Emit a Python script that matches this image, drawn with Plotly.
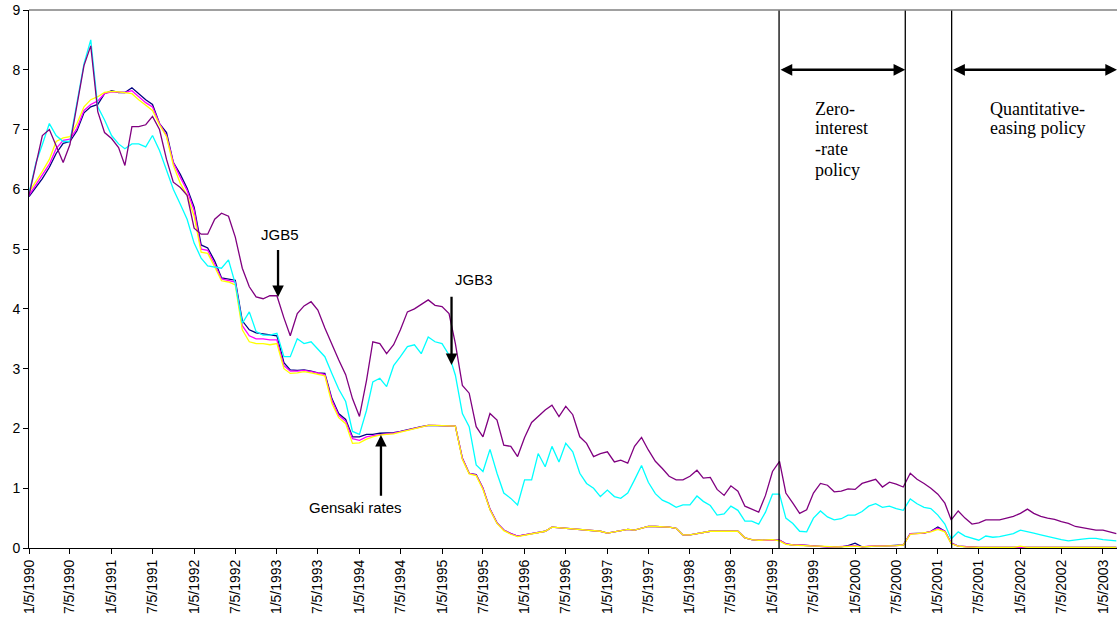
import plotly.graph_objects as go

# ---------------- data (monthly readings, 5th of each month, Jan 1990 - Mar 2003) ----------------
dates = [f"{1990 + i // 12}-{i % 12 + 1:02d}-05" for i in range(159)]

gensaki_1 = [
    5.88, 6.04, 6.18, 6.37, 6.60, 6.77, 6.80, 6.98, 7.28, 7.38, 7.42, 7.60,
    7.65, 7.62, 7.62, 7.70, 7.60, 7.50, 7.42, 7.10, 6.95, 6.45, 6.25, 6.02,
    5.70, 5.07, 5.02, 4.80, 4.52, 4.50, 4.48, 3.80, 3.65, 3.60, 3.58, 3.56,
    3.55, 3.10, 2.98, 2.97, 2.98, 2.96, 2.93, 2.92, 2.50, 2.25, 2.15, 1.86,
    1.86, 1.90, 1.90, 1.92, 1.92, 1.93, 1.95, 1.98, 2.00, 2.03, 2.05, 2.05,
    2.05, 2.05, 2.04, 1.50, 1.25, 1.23, 1.00, 0.65, 0.42, 0.30, 0.24, 0.20,
    0.22, 0.24, 0.26, 0.28, 0.35, 0.34, 0.33, 0.32, 0.32, 0.31, 0.30, 0.28,
    0.25, 0.27, 0.28, 0.31, 0.30, 0.33, 0.36, 0.36, 0.36, 0.35, 0.33, 0.22,
    0.22, 0.24, 0.27, 0.28, 0.28, 0.28, 0.28, 0.28, 0.17, 0.14, 0.13, 0.13,
    0.14, 0.13, 0.07, 0.05, 0.05, 0.04, 0.03, 0.03, 0.02, 0.02, 0.02, 0.04,
    0.08, 0.02, 0.03, 0.03, 0.03, 0.04, 0.04, 0.05, 0.24, 0.24, 0.25, 0.28,
    0.35, 0.28, 0.08, 0.03, 0.02, 0.01, 0.01, 0.01, 0.01, 0.01, 0.01, 0.01,
    0.01, 0.01, 0.01, 0.01, 0.01, 0.01, 0.01, 0.01, 0.01, 0.01, 0.01, 0.01,
    0.01, 0.01, 0.01,
]

gensaki_2 = [
    5.90, 6.08, 6.24, 6.42, 6.68, 6.82, 6.84, 7.02, 7.32, 7.42, 7.48, 7.60,
    7.63, 7.62, 7.62, 7.65, 7.55, 7.45, 7.38, 7.10, 6.90, 6.45, 6.20, 5.98,
    5.65, 5.00, 4.98, 4.75, 4.50, 4.48, 4.45, 3.72, 3.55, 3.50, 3.50, 3.48,
    3.48, 3.05, 2.96, 2.96, 2.97, 2.95, 2.92, 2.90, 2.47, 2.22, 2.12, 1.83,
    1.80, 1.86, 1.88, 1.90, 1.91, 1.92, 1.94, 1.97, 2.00, 2.03, 2.05, 2.05,
    2.05, 2.05, 2.04, 1.50, 1.25, 1.22, 1.00, 0.65, 0.42, 0.30, 0.24, 0.20,
    0.22, 0.24, 0.26, 0.28, 0.35, 0.34, 0.33, 0.32, 0.32, 0.31, 0.30, 0.28,
    0.25, 0.27, 0.28, 0.31, 0.30, 0.33, 0.36, 0.36, 0.36, 0.35, 0.33, 0.22,
    0.22, 0.24, 0.27, 0.28, 0.28, 0.28, 0.28, 0.28, 0.17, 0.14, 0.13, 0.13,
    0.14, 0.13, 0.07, 0.05, 0.05, 0.04, 0.03, 0.03, 0.02, 0.02, 0.02, 0.03,
    0.04, 0.02, 0.03, 0.03, 0.03, 0.04, 0.04, 0.05, 0.24, 0.24, 0.25, 0.28,
    0.33, 0.28, 0.08, 0.03, 0.02, 0.01, 0.01, 0.01, 0.01, 0.01, 0.01, 0.01,
    0.01, 0.01, 0.01, 0.01, 0.01, 0.01, 0.01, 0.01, 0.01, 0.01, 0.01, 0.01,
    0.01, 0.01, 0.01,
]

gensaki_3 = [
    5.95, 6.13, 6.30, 6.50, 6.80, 6.86, 6.88, 7.10, 7.38, 7.50, 7.55, 7.62,
    7.64, 7.63, 7.62, 7.60, 7.50, 7.40, 7.32, 7.08, 6.88, 6.40, 6.10, 5.90,
    5.55, 4.95, 4.93, 4.70, 4.47, 4.45, 4.40, 3.65, 3.45, 3.42, 3.42, 3.40,
    3.42, 3.00, 2.92, 2.93, 2.95, 2.93, 2.90, 2.88, 2.42, 2.18, 2.08, 1.75,
    1.76, 1.82, 1.86, 1.89, 1.90, 1.91, 1.94, 1.97, 2.00, 2.03, 2.05, 2.05,
    2.05, 2.05, 2.04, 1.48, 1.24, 1.21, 0.98, 0.64, 0.41, 0.29, 0.23, 0.19,
    0.21, 0.23, 0.26, 0.28, 0.35, 0.34, 0.33, 0.32, 0.32, 0.31, 0.30, 0.28,
    0.25, 0.27, 0.28, 0.31, 0.30, 0.33, 0.36, 0.36, 0.36, 0.35, 0.33, 0.22,
    0.22, 0.24, 0.27, 0.28, 0.28, 0.28, 0.28, 0.28, 0.17, 0.14, 0.13, 0.13,
    0.14, 0.12, 0.06, 0.05, 0.04, 0.04, 0.03, 0.03, 0.02, 0.02, 0.02, 0.03,
    0.03, 0.02, 0.03, 0.03, 0.03, 0.03, 0.04, 0.05, 0.23, 0.24, 0.25, 0.27,
    0.31, 0.27, 0.07, 0.03, 0.02, 0.01, 0.01, 0.01, 0.01, 0.01, 0.01, 0.01,
    0.03, 0.01, 0.01, 0.01, 0.01, 0.01, 0.01, 0.01, 0.01, 0.01, 0.01, 0.01,
    0.01, 0.01, 0.01,
]

jgb3 = [
    5.93, 6.45, 6.75, 7.10, 6.90, 6.80, 6.80, 7.45, 8.10, 8.50, 7.38, 7.16,
    6.90, 6.76, 6.68, 6.76, 6.76, 6.71, 6.90, 6.65, 6.31, 6.00, 5.75, 5.50,
    5.10, 4.85, 4.72, 4.70, 4.68, 4.82, 4.42, 3.76, 3.95, 3.62, 3.56, 3.56,
    3.59, 3.20, 3.20, 3.50, 3.42, 3.45, 3.32, 3.20, 2.92, 2.66, 2.45, 1.95,
    1.90, 2.30, 2.78, 2.84, 2.70, 3.05, 3.20, 3.37, 3.40, 3.25, 3.53, 3.45,
    3.42, 3.23, 2.89, 2.25, 2.03, 1.39, 1.28, 1.65, 1.25, 0.92, 0.83, 0.72,
    1.14, 1.14, 1.58, 1.36, 1.70, 1.44, 1.75, 1.61, 1.25, 1.08, 1.00, 0.86,
    0.97, 0.86, 0.83, 0.92, 1.14, 1.38, 1.10, 0.91, 0.80, 0.75, 0.68, 0.72,
    0.72, 0.87, 0.78, 0.71, 0.55, 0.57, 0.70, 0.63, 0.45, 0.45, 0.40, 0.60,
    0.90, 0.90, 0.50, 0.41, 0.28, 0.27, 0.50, 0.62, 0.52, 0.47, 0.49, 0.55,
    0.55, 0.61, 0.70, 0.74, 0.68, 0.70, 0.66, 0.63, 0.82, 0.74, 0.68, 0.66,
    0.55, 0.40, 0.15, 0.27, 0.20, 0.16, 0.13, 0.20, 0.18, 0.19, 0.22, 0.24,
    0.30, 0.28, 0.25, 0.22, 0.19, 0.16, 0.14, 0.12, 0.14, 0.15, 0.16, 0.16,
    0.14, 0.13, 0.12,
]

jgb5 = [
    5.90, 6.42, 6.90, 7.00, 6.72, 6.45, 6.75, 7.40, 8.07, 8.40, 7.30, 6.95,
    6.85, 6.70, 6.40, 7.05, 7.05, 7.08, 7.22, 7.00, 6.50, 6.12, 6.03, 5.90,
    5.35, 5.25, 5.25, 5.50, 5.60, 5.55, 5.20, 4.68, 4.37, 4.20, 4.17, 4.22,
    4.22, 3.85, 3.55, 3.92, 4.05, 4.12, 3.98, 3.68, 3.40, 3.15, 2.90, 2.50,
    2.20, 2.80, 3.45, 3.42, 3.25, 3.40, 3.65, 3.95, 4.00, 4.08, 4.15, 4.06,
    4.04, 3.92, 3.42, 2.72, 2.59, 2.03, 1.86, 2.25, 2.14, 1.72, 1.70, 1.53,
    1.85, 2.10, 2.20, 2.31, 2.39, 2.20, 2.37, 2.23, 1.86, 1.75, 1.53, 1.58,
    1.61, 1.44, 1.47, 1.42, 1.70, 1.85, 1.64, 1.45, 1.33, 1.20, 1.14, 1.14,
    1.20, 1.30, 1.17, 1.18, 0.98, 0.88, 1.04, 0.95, 0.70, 0.65, 0.60, 0.88,
    1.28, 1.45, 0.92, 0.75, 0.58, 0.64, 0.92, 1.08, 1.05, 0.94, 0.95, 0.99,
    0.98, 1.08, 1.12, 1.15, 1.02, 1.10, 1.07, 1.02, 1.25, 1.15, 1.08, 1.00,
    0.90, 0.75, 0.47, 0.62, 0.50, 0.40, 0.42, 0.47, 0.47, 0.47, 0.50, 0.53,
    0.58, 0.65, 0.58, 0.53, 0.50, 0.48, 0.44, 0.41, 0.36, 0.34, 0.32, 0.30,
    0.30, 0.27, 0.24,
]

tick_labels = [
    "1/5/1990", "7/5/1990", "1/5/1991", "7/5/1991", "1/5/1992", "7/5/1992",
    "1/5/1993", "7/5/1993", "1/5/1994", "7/5/1994", "1/5/1995", "7/5/1995",
    "1/5/1996", "7/5/1996", "1/5/1997", "7/5/1997", "1/5/1998", "7/5/1998",
    "1/5/1999", "7/5/1999", "1/5/2000", "7/5/2000", "1/5/2001", "7/5/2001",
    "1/5/2002", "7/5/2002", "1/5/2003",
]
y_ticks = [0, 1, 2, 3, 4, 5, 6, 7, 8, 9]

# policy boundaries: zero-rate start, zero-rate end, quantitative easing start
policy_dates = ["1999-02-03", "2000-08-14", "2001-03-07"]
axis_end = "2003-03-08"

# ---------------- figure ----------------
def tick_date(lbl):
    m, d, y = lbl.split("/")
    return f"{y}-{int(m):02d}-{int(d):02d}"

tick_vals = [tick_date(t) for t in tick_labels]

series = [
    ("Gensaki 1", gensaki_1, "#000080"),
    ("Gensaki 2", gensaki_2, "#FF00FF"),
    ("Gensaki 3", gensaki_3, "#FFFF00"),
    ("JGB3", jgb3, "#00FFFF"),
    ("JGB5", jgb5, "#800080"),
]

fig = go.Figure()
for name, vals, col in series:
    fig.add_trace(go.Scatter(x=dates, y=vals, mode="lines", name=name,
                             line=dict(color=col, width=1.3),
                             hoverinfo="x+y+name"))

shapes = []
for d in policy_dates:
    shapes.append(dict(type="line", xref="x", yref="paper", x0=d, x1=d, y0=0, y1=1,
                       line=dict(color="black", width=1.3), layer="above"))
shapes.append(dict(type="line", xref="paper", yref="paper", x0=0, x1=1, y0=1, y1=1,
                   line=dict(color="#808080", width=1.3), layer="above"))

sans = "Liberation Sans, Arial, sans-serif"
serif = "Liberation Serif, Times New Roman, serif"

ann = []
# double arrows for policy periods
for x0, x1 in [(policy_dates[0], policy_dates[1]), (policy_dates[2], axis_end)]:
    ann.append(dict(x=x1, y=8.0, ax=x0, ay=8.0, xref="x", yref="y", axref="x", ayref="y",
                    text="", showarrow=True, arrowside="end+start",
                    arrowhead=2, startarrowhead=2, arrowsize=0.9, startarrowsize=0.9,
                    arrowwidth=2.6, arrowcolor="black", standoff=0, startstandoff=0))

# label arrows
for xt, yt, yh in [("1993-01-10", 5.01, 4.20), ("1995-02-16", 4.23, 3.06), ("1994-04-10", 0.85, 1.89)]:
    ann.append(dict(x=xt, y=yh, ax=xt, ay=yt, xref="x", yref="y", axref="x", ayref="y",
                    text="", showarrow=True, arrowhead=2, arrowsize=1.0,
                    arrowwidth=2.3, arrowcolor="black", standoff=0))

for txt, xd, yv in [("JGB5", "1993-01-20", 5.25), ("JGB3", "1995-05-27", 4.50),
                    ("Gensaki rates", "1993-12-17", 0.67)]:
    ann.append(dict(x=xd, y=yv, xref="x", yref="y", text=txt, showarrow=False,
                    font=dict(family=sans, size=15, color="black"),
                    xanchor="center", yanchor="middle"))

for txt, xd, yv in [("Zero-", "1999-07-05", 7.35), ("interest", "1999-07-05", 7.02),
                    ("-rate", "1999-07-05", 6.68), ("policy", "1999-07-05", 6.33),
                    ("Quantitative-", "2001-08-16", 7.35), ("easing policy", "2001-08-16", 7.02)]:
    ann.append(dict(x=xd, y=yv, xref="x", yref="y", text=txt, showarrow=False,
                    font=dict(family=serif, size=18, color="black"),
                    xanchor="left", yanchor="middle"))

fig.update_layout(
    width=1117, height=627,
    margin=dict(l=29, r=0, t=10, b=79, autoexpand=False),
    paper_bgcolor="white", plot_bgcolor="white",
    showlegend=False,
    shapes=shapes, annotations=ann,
    font=dict(family=sans, size=14, color="black"),
)
fig.update_xaxes(type="date", range=[dates[0], axis_end],
                 tickvals=tick_vals, ticktext=tick_labels, tickangle=-90,
                 ticks="outside", ticklen=5, tickcolor="black",
                 showline=True, linecolor="black", linewidth=1,
                 showgrid=False, zeroline=False, automargin=False,
                 tickfont=dict(family=sans, size=14, color="black"))
fig.update_yaxes(range=[0, 9], tickvals=y_ticks,
                 ticks="outside", ticklen=5, tickcolor="black",
                 showline=True, linecolor="black", linewidth=1,
                 showgrid=False, zeroline=False, automargin=False,
                 tickfont=dict(family=sans, size=14, color="black"))

fig.write_html("out.html")
